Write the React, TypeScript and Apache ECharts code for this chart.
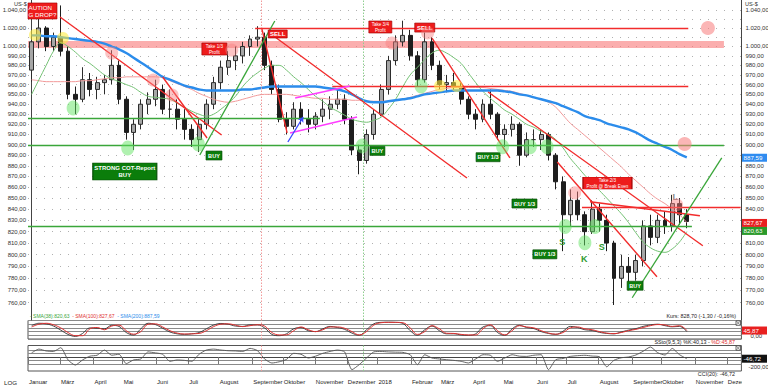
import React, { useEffect, useRef } from "react";
import * as echarts from "echarts";

// ---------- weekly price data (week 0 = 30 Jan 2017) ----------
const opens = [
  975, 1005, 1020, 1000, 1010, 995, 950, 945, 965, 955,
  962, 965, 980, 945, 912, 920, 940, 945, 955, 935,
  935, 925, 915, 905, 920, 940, 962, 978, 985, 990,
  1000, 1008, 1010, 980, 955, 925, 918, 935, 925, 920,
  928, 935, 940, 945, 925, 895, 885, 910, 930, 955,
  985, 1005, 1012, 990, 965, 1005, 980, 960, 962, 958,
  945, 930, 925, 940, 930, 910, 915, 920, 890, 905,
  905, 910, 890, 865, 835, 848, 835, 820, 840, 830,
  810, 780, 790, 785, 795, 825, 815, 830, 825, 845,
  835,
];
const highs = [
  1012, 1030, 1022, 1015, 1045, 1000, 958, 978, 972, 968,
  970, 996, 985, 948, 925, 945, 952, 965, 960, 955,
  945, 935, 920, 925, 945, 968, 985, 995, 1000, 1005,
  1012, 1022, 1015, 985, 960, 932, 942, 942, 935, 932,
  945, 948, 955, 950, 928, 900, 915, 935, 960, 990,
  1012, 1028, 1018, 995, 1015, 1010, 985, 970, 972, 962,
  948, 935, 945, 955, 932, 920, 928, 922, 912, 915,
  915, 912, 892, 870, 858, 856, 838, 848, 845, 835,
  812, 800, 798, 800, 830, 835, 835, 838, 853, 850,
  840,
];
const lows = [
  963, 998, 995, 995, 990, 945, 930, 942, 948, 945,
  950, 960, 940, 905, 895, 915, 930, 938, 930, 925,
  915, 905, 898, 893, 915, 935, 955, 970, 975, 982,
  990, 1000, 975, 950, 922, 910, 915, 920, 912, 915,
  922, 925, 935, 920, 890, 872, 882, 905, 928, 950,
  980, 1000, 985, 958, 962, 975, 955, 952, 953, 940,
  925, 915, 922, 925, 905, 898, 908, 880, 888, 898,
  895, 885, 858, 803, 825, 830, 808, 818, 820, 803,
  758, 772, 775, 778, 790, 808, 810, 818, 820, 826,
  823,
];
const closes = [
  1005, 1020, 1000, 1010, 995, 950, 945, 965, 955, 962,
  965, 980, 945, 912, 920, 940, 945, 955, 935, 935,
  925, 915, 905, 920, 940, 962, 978, 985, 990, 1000,
  1008, 1010, 980, 955, 925, 918, 935, 925, 920, 928,
  935, 940, 945, 925, 895, 885, 910, 930, 955, 985,
  1005, 1012, 990, 965, 1005, 980, 960, 962, 958, 945,
  930, 925, 940, 930, 910, 915, 920, 890, 905, 905,
  910, 890, 865, 835, 848, 835, 820, 840, 830, 810,
  780, 790, 785, 795, 825, 815, 830, 825, 845, 835,
  829,
];

// ---------- moving averages ----------
const sma38 = [
  950, 965, 980, 995, 1004, 1000, 994, 987, 982, 976,
  970, 966, 963, 960, 957, 952, 948, 947, 946, 945,
  941, 937, 933, 930, 928, 930, 935, 941, 948, 958,
  966, 972, 977, 980, 980, 975, 968, 962, 955, 948,
  943, 937, 933, 929, 925, 923, 922, 924, 927, 935,
  945, 958, 970, 978, 986, 993, 996, 993, 988, 982,
  972, 962, 953, 946, 940, 934, 930, 925, 920, 917,
  913, 910, 905, 897, 887, 879, 871, 864, 857, 850,
  843, 836, 828, 819, 811, 806, 803, 802, 805, 811,
  820,
];
const sma100 = [
  965, 964, 963, 963, 963, 963, 963, 964, 964, 965,
  966, 967, 967, 968, 968, 968, 968, 968, 967, 964,
  961, 958, 955, 951, 948, 945, 943, 942, 943, 945,
  947, 949, 950, 950, 950, 950, 949, 948, 947, 946,
  946, 945, 945, 945, 944, 944, 943, 943, 943, 943,
  944, 945, 947, 949, 951, 953, 955, 956, 957, 957,
  957, 957, 957, 956, 955, 954, 953, 951, 949, 947,
  945, 942, 937, 929, 921, 915, 909, 903, 897, 891,
  885, 879, 872, 866, 860, 854, 849, 845, 840, 835,
  828,
];
const sma200 = [
  1012, 1012, 1011, 1011, 1010, 1009, 1008, 1007, 1006, 1005,
  1003, 1000, 997, 993, 988, 983, 978, 973, 968, 965,
  962, 959, 957, 955, 954, 954, 954, 954, 954, 955,
  955, 956, 957, 958, 958, 958, 958, 958, 958, 958,
  957, 956, 955, 953, 950, 946, 943, 942, 942, 943,
  944, 945, 946, 948, 950, 951, 952, 953, 954, 954,
  954, 954, 954, 954, 954, 953, 952, 950, 949, 947,
  945, 943, 941, 938, 935, 932, 928, 926, 924, 921,
  919, 917, 915, 912, 908, 904, 901, 898, 895, 891,
  888,
];

// ---------- indicators ----------
const stochD = [
  65, 80, 85, 77, 60, 35, 18, 18, 55, 62,
  50, 70, 75, 45, 26, 40, 80, 82, 65, 45,
  32, 27, 28, 30, 45, 67, 80, 82, 75, 67,
  72, 77, 70, 35, 22, 22, 45, 65, 50, 40,
  50, 65, 65, 58, 40, 22, 40, 75, 88, 90,
  90, 88, 60, 25, 40, 72, 55, 31, 30, 25,
  22, 22, 55, 77, 45, 22, 45, 72, 65, 60,
  45, 32, 26, 35, 60, 65, 55, 50, 40, 32,
  29, 35, 45, 52, 62, 72, 78, 76, 68, 72,
  46,
];
const stochK = [
  72, 85, 82, 70, 48, 25, 14, 30, 60, 58,
  55, 74, 68, 35, 22, 55, 85, 78, 58, 38,
  28, 25, 28, 35, 55, 75, 84, 80, 70, 68,
  76, 76, 60, 25, 18, 28, 55, 62, 45, 40,
  55, 68, 62, 52, 32, 20, 50, 82, 90, 91,
  90, 84, 45, 20, 50, 70, 45, 28, 28, 22,
  20, 28, 65, 72, 35, 20, 55, 74, 62, 56,
  40, 30, 25, 42, 68, 62, 50, 46, 36, 30,
  28, 38, 48, 56, 68, 76, 80, 72, 66, 68,
  40,
];
const cci = [
  122, 231, 177, 163, 272, -82, -231, -82, 27, 54,
  204, 54, 82, -190, -82, -54, 150, 122, 82, -122,
  -82, -95, -122, 82, 204, 231, 204, 184, 177, 163,
  252, 190, -54, -171, -136, -68, 109, 82, -27, 27,
  109, 163, 204, 150, -364, -218, -27, 150, 163, 150,
  143, 136, 68, -218, 68, -27, -54, -75, -95, -122,
  -171, -54, 68, 54, -122, -27, 68, 27, 20, 54,
  68, -364, -75, -41, 20, 41, 52, 30, 10, -280,
  -92, -20, 3, 60, 168, 292, 127, 60, 250, 69,
  -47,
];

// ---------- axis ticks / labels ----------
const monthTicks = [-0.5, 3.9, 8.5, 12.5, 17.1, 21.5, 25.7, 30.3, 34.5, 38.9, 43.3, 47.5, 52.1, 56.1, 60.5, 64.7, 69.3, 73.5, 77.9, 82.5, 86.5, 91.1, 95.5];
const monthNames = ["Januar", "März", "April", "Mai", "Juni", "Juli", "August", "September", "Oktober", "November", "Dezember", "2018", "Februar", "März", "April", "Mai", "Juni", "Juli", "August", "September", "Oktober", "November", "Dezember"];
const priceGridTicks = [760, 770, 780, 790, 800, 810, 820, 830, 840, 850, 860, 870, 880, 890, 900, 910, 920, 930, 940, 950, 960, 970, 980, 990, 1000, 1010, 1020, 1030, 1040];
const leftPriceLabels = [760, 770, 780, 790, 800, 810, 820, 830, 840, 850, 860, 870, 880, 890, 900, 910, 920, 930, 940, 950, 960, 970, 980, 990, 1000, 1020, 1040];
const rightPriceLabels = [760, 770, 780, 790, 800, 810, 840, 850, 860, 870, 880, 900, 910, 920, 930, 940, 950, 960, 970, 980, 990, 1000, 1020, 1040];
const stochTicks = [0, 20, 40, 60, 80, 100];
const cciTicks = [-200, -100, 0, 100, 200];

// ---------- drawn annotations (week position, price) ----------
const redTrendLines = [
  [[3.9, 1032.1], [26.1, 909.5]],
  [[18.0, 967.8], [24.1, 906.6]],
  [[31.6, 1020.0], [35.1, 911.5]],
  [[32.5, 1015.6], [59.8, 868.5]],
  [[55.0, 1009.1], [65.7, 887.4]],
  [[62.7, 952.4], [92.2, 807.7]],
  [[72.2, 883.6], [85.9, 781.3]],
  [[76.7, 846.7], [91.8, 834.1]],
  [[75.6, 841.3], [97.4, 841.3]],
  [[30.7, 1020.0], [90.2, 1020.0]],
  [[41.3, 958.5], [90.2, 958.5]],
];
const greenLines = [
  [[-0.5, 926.2], [39.6, 926.2]],
  [[-0.5, 899.1], [95.1, 899.1]],
  [[-0.5, 824.6], [90.7, 824.6]],
  [[23.1, 890.2], [33.4, 1027.7]],
  [[82.5, 763.9], [94.8, 887.4]],
];
const magentaLines = [
  [[36.2, 946.3], [43.7, 958.5]],
  [[35.5, 911.5], [44.7, 927.2]],
];
const blueArrow = [[35.2, 902.7], [37.3, 927.2]];
const resistanceBand = [[-0.5, 998.4], [95.1, 1005.9]];
const yellowCircles = [[0.46, 1012.4], [4.3, 1009.1], [56.1, 958.5], [58.4, 958.5]];
const greenCircles = [[5.7, 936.2], [13.2, 897.0], [22.9, 900.8], [45.4, 898.9], [53.5, 958.5], [64.7, 898], [68.5, 898], [70.8, 898], [73.3, 824.6], [76.0, 810.3], [77.4, 824.6]];
const pinkCircles = [[11.0, 993.0], [16.7, 964.7], [19.3, 949.3], [27.5, 996.2], [49.5, 1003.7], [54.4, 1014.6], [74.6, 854.8], [88.6, 843.9]];
const bigPinkCircles = [[92.9, 1020], [89.7, 900.8]];
const verticalMarks = [31.6, 45.5];

const redBoxes = [
  { pos: [1.49, 1038.8], size: [29, 16], text: "AUTION\nG DROP?", fs: 6.2, left: true },
  { pos: [25.1, 997.3], size: [25, 12], text: "Take 1/3\nProfit", fs: 4.6 },
  { pos: [33.8, 1013.5], size: [19, 8], text: "SELL", fs: 6 },
  { pos: [47.9, 1021.1], size: [23, 12], text: "Take 3/4\nProfit", fs: 4.6 },
  { pos: [54.0, 1020.5], size: [20, 9], text: "SELL", fs: 6 },
  { pos: [79.1, 863.8], size: [49, 12], text: "Take 2/3\nProfit @ Break Even", fs: 4.6 },
];
const greenBoxes = [
  { pos: [12.8, 874.6], size: [64, 17], text: "STRONG COT-Report\nBUY", fs: 6 },
  { pos: [25.05, 889.7], size: [16, 9], text: "BUY", fs: 5.6 },
  { pos: [47.5, 894.1], size: [15, 9], text: "BUY", fs: 5.6 },
  { pos: [62.7, 888.1], size: [24, 9], text: "BUY 1/3", fs: 5.6 },
  { pos: [67.7, 845.1], size: [25, 9], text: "BUY 1/3", fs: 5.6 },
  { pos: [70.5, 800.3], size: [24, 9], text: "BUY 1/3", fs: 5.6 },
  { pos: [82.9, 773.8], size: [16, 9], text: "BUY", fs: 5.6 },
];
const letterMarks = [
  { pos: [72.9, 811.2], text: "S", color: "#2f9a2f" },
  { pos: [75.9, 796.4], text: "K", color: "#2f9a2f" },
  { pos: [78.3, 806.9], text: "S", color: "#2f9a2f" },
  { pos: [88.4, 851.1], text: "L", color: "#888888" },
];

const lastSma38 = 820.63;
const lastSma100 = 827.67;
const lastSma200 = 887.59;
const lastK = 40.13;
const lastD = 45.87;
const lastCci = -46.72;

const FONT = '"Liberation Sans", Arial, Helvetica, sans-serif';
const NWEEKS = 98;

const de = (v: number) => {
  const s = Math.abs(v).toFixed(2);
  const parts = s.split(".");
  const int = parts[0].replace(/\B(?=(\d{3})+(?!\d))/g, ".");
  return (v < 0 ? "-" : "") + int + "," + parts[1];
};

export default function App() {
  const ref = useRef<HTMLDivElement>(null);

  useEffect(() => {
    document.body.style.margin = "0";
    if (!ref.current) return;
    const chart = echarts.init(ref.current, null, { renderer: "svg" });

    const cats = Array.from({ length: NWEEKS }, (_, i) => String(i));
    const candleData = opens.map((o, i) => [o, closes[i], lows[i], highs[i]]);
    const xy = (arr: number[]) => arr.map((v, i) => [i, v]);
    const seg = (lines: number[][][]) =>
      lines.map((l) => [{ coord: l[0] }, { coord: l[1] }]);

    const boxItem = (b: any, fill: string, border: string) => ({
      coord: b.pos,
      symbol: "rect",
      symbolSize: b.size,
      itemStyle: { color: fill, borderColor: border, borderWidth: 0.6 },
      label: {
        show: true,
        formatter: b.text,
        color: "#ffffff",
        fontSize: b.fs,
        lineHeight: b.fs + 1.4,
        fontFamily: FONT,
        fontWeight: b.fs >= 5.5 && !b.left ? "bold" : "normal",
        position: b.left ? "insideLeft" : "inside",
        distance: 1,
        align: b.left ? "left" : "center",
      },
    });

    const gridBase = { left: 28, right: 26.6, outerBoundsMode: "none", containLabel: false };
    const vLines = [
      { xAxis: verticalMarks[0], lineStyle: { color: "#f29a9a", type: [1.5, 1.5], width: 1 } },
      { xAxis: verticalMarks[1], lineStyle: { color: "#8fcf8f", type: [1.5, 1.5], width: 1 } },
    ];

    const option: any = {
      animation: false,
      textStyle: { fontFamily: FONT },
      grid: [
        { ...gridBase, top: 0, height: 320 },
        { ...gridBase, top: 320.5, height: 18.5, show: true, borderColor: "#555", borderWidth: 1 },
        { ...gridBase, top: 345.5, height: 25.5, show: true, borderColor: "#555", borderWidth: 1 },
      ],
      xAxis: [
        { type: "category", gridIndex: 0, data: cats, boundaryGap: true, show: false },
        { type: "value", gridIndex: 0, min: -0.5, max: NWEEKS - 0.5, show: false },
        { type: "value", gridIndex: 1, min: -0.5, max: NWEEKS - 0.5, show: false },
        {
          type: "value",
          gridIndex: 2,
          min: -0.5,
          max: NWEEKS - 0.5,
          position: "bottom",
          offset: 6.5,
          axisLine: { show: true, lineStyle: { color: "#444", width: 1 } },
          axisTick: { show: true, customValues: monthTicks, length: 7, inside: false, lineStyle: { color: "#777" } },
          axisLabel: {
            show: true,
            customValues: monthTicks,
            formatter: (v: number) => {
              const i = monthTicks.findIndex((t) => Math.abs(t - v) < 1e-6);
              return i >= 0 ? monthNames[i] : "";
            },
            align: "left",
            padding: [0, 0, 0, 1],
            margin: 1.5,
            fontSize: 6,
            color: "#222",
            showMinLabel: true,
            showMaxLabel: true,
            hideOverlap: false,
          },
          splitLine: { show: false },
        },
      ],
      yAxis: [
        {
          type: "log",
          logBase: 10,
          gridIndex: 0,
          position: "left",
          min: 745.9,
          max: 1051.1,
          axisLine: { show: true, lineStyle: { color: "#444" } },
          axisTick: { show: false, customValues: priceGridTicks },
          axisLabel: { customValues: leftPriceLabels, formatter: (v: number) => de(v), fontSize: 6, color: "#333", margin: 2 },
          splitLine: { show: true, lineStyle: { color: "#b0b0b0", type: [1, 7], width: 1 } },
        },
        {
          type: "log",
          logBase: 10,
          gridIndex: 0,
          position: "right",
          min: 745.9,
          max: 1051.1,
          axisLine: { show: true, lineStyle: { color: "#444" } },
          axisTick: { show: false, customValues: priceGridTicks },
          axisLabel: { customValues: rightPriceLabels, formatter: (v: number) => de(v), fontSize: 6, color: "#333", margin: 4 },
          splitLine: { show: false },
        },
        {
          type: "value",
          gridIndex: 1,
          position: "left",
          min: 0,
          max: 100,
          axisLine: { show: false },
          axisTick: { show: false, customValues: stochTicks },
          axisLabel: { show: false },
          splitLine: { show: true, lineStyle: { color: "#8a8a8a", width: 1 } },
        },
        {
          type: "value",
          gridIndex: 1,
          position: "right",
          min: 0,
          max: 100,
          axisLine: { show: false },
          axisTick: { show: false },
          axisLabel: { show: true, customValues: [0], formatter: (v: number) => de(v), fontSize: 6, color: "#333", margin: 9, verticalAlign: "bottom" },
          splitLine: { show: false },
        },
        {
          type: "value",
          gridIndex: 2,
          position: "left",
          min: -402,
          max: 335,
          axisLine: { show: false },
          axisTick: { show: false, customValues: cciTicks },
          axisLabel: { show: false },
          splitLine: { show: true, lineStyle: { color: "#8a8a8a", width: 1 } },
        },
        {
          type: "value",
          gridIndex: 2,
          position: "right",
          min: -402,
          max: 335,
          axisLine: { show: false },
          axisTick: { show: false },
          axisLabel: { show: true, customValues: [-200], formatter: (v: number) => de(v), fontSize: 6, color: "#333", margin: 7, verticalAlign: "top" },
          splitLine: { show: false },
        },
      ],
      series: [
        {
          name: "band",
          type: "line",
          xAxisIndex: 1,
          yAxisIndex: 0,
          data: [],
          z: 1,
          markArea: {
            silent: true,
            itemStyle: { color: "rgba(248,120,120,0.6)" },
            data: [[{ coord: resistanceBand[0] }, { coord: resistanceBand[1] }]],
          },
        },
        {
          name: "Kurs",
          type: "candlestick",
          xAxisIndex: 0,
          yAxisIndex: 0,
          data: candleData,
          barWidth: 4.4,
          z: 2,
          itemStyle: { color: "#a6a6a6", color0: "#1e1e1e", borderColor: "#2c2c2c", borderColor0: "#1e1e1e", borderWidth: 1 },
        },
        {
          name: "SMA(100)",
          type: "line",
          xAxisIndex: 0,
          yAxisIndex: 0,
          data: sma100,
          showSymbol: false,
          smooth: 0.4,
          z: 3,
          lineStyle: { color: "#f29a9a", width: 1 },
        },
        {
          name: "SMA(38)",
          type: "line",
          xAxisIndex: 0,
          yAxisIndex: 0,
          data: sma38,
          showSymbol: false,
          smooth: 0.4,
          z: 3,
          lineStyle: { color: "#74c274", width: 1 },
        },
        {
          name: "SMA(200)",
          type: "line",
          xAxisIndex: 0,
          yAxisIndex: 0,
          data: sma200,
          showSymbol: false,
          smooth: 0.4,
          z: 3,
          lineStyle: { color: "#2b8ceb", width: 2.4 },
        },
        {
          name: "verticals",
          type: "line",
          xAxisIndex: 1,
          yAxisIndex: 0,
          data: [],
          z: 2,
          markLine: { silent: true, symbol: ["none", "none"], label: { show: false }, data: vLines },
        },
        {
          name: "redLines",
          type: "line",
          xAxisIndex: 1,
          yAxisIndex: 0,
          data: [],
          z: 4,
          markLine: {
            silent: true,
            symbol: ["none", "none"],
            label: { show: false },
            lineStyle: { color: "#f22c2c", width: 1.4, type: "solid" },
            data: seg(redTrendLines),
          },
        },
        {
          name: "greenLines",
          type: "line",
          xAxisIndex: 1,
          yAxisIndex: 0,
          data: [],
          z: 4,
          markLine: {
            silent: true,
            symbol: ["none", "none"],
            label: { show: false },
            lineStyle: { color: "#3aa63a", width: 1.3, type: "solid" },
            data: seg(greenLines),
          },
        },
        {
          name: "magentaLines",
          type: "line",
          xAxisIndex: 1,
          yAxisIndex: 0,
          data: [],
          z: 4,
          markLine: {
            silent: true,
            symbol: ["none", "none"],
            label: { show: false },
            lineStyle: { color: "#ff3cff", width: 1.5, type: "solid" },
            data: seg(magentaLines),
          },
        },
        {
          name: "blueArrow",
          type: "line",
          xAxisIndex: 1,
          yAxisIndex: 0,
          data: [],
          z: 4,
          markLine: {
            silent: true,
            symbol: ["none", "arrow"],
            symbolSize: 5,
            label: { show: false },
            lineStyle: { color: "#3848ff", width: 1.3, type: "solid" },
            data: [[{ coord: blueArrow[0] }, { coord: blueArrow[1] }]],
          },
        },
        {
          name: "yellow",
          type: "scatter",
          xAxisIndex: 1,
          yAxisIndex: 0,
          data: yellowCircles,
          symbolSize: 12,
          z: 5,
          silent: true,
          itemStyle: { color: "rgba(255,236,60,0.72)" },
        },
        {
          name: "green",
          type: "scatter",
          xAxisIndex: 1,
          yAxisIndex: 0,
          data: greenCircles,
          symbolSize: [13, 15],
          z: 5,
          silent: true,
          itemStyle: { color: "rgba(96,226,96,0.62)" },
        },
        {
          name: "pink",
          type: "scatter",
          xAxisIndex: 1,
          yAxisIndex: 0,
          data: pinkCircles,
          symbolSize: 13,
          z: 5,
          silent: true,
          itemStyle: { color: "rgba(248,128,128,0.58)" },
        },
        {
          name: "bigPink",
          type: "scatter",
          xAxisIndex: 1,
          yAxisIndex: 0,
          data: bigPinkCircles,
          symbolSize: 14,
          z: 5,
          silent: true,
          itemStyle: { color: "rgba(248,128,128,0.72)" },
        },
        {
          name: "boxes",
          type: "line",
          xAxisIndex: 1,
          yAxisIndex: 0,
          data: [],
          z: 6,
          markPoint: {
            silent: true,
            data: [
              ...redBoxes.map((b) => boxItem(b, "#ee1c1c", "#a00000")),
              ...greenBoxes.map((b) => boxItem(b, "#0b7d0b", "#064d06")),
              ...letterMarks.map((m) => ({
                coord: m.pos,
                symbol: "circle",
                symbolSize: 1,
                itemStyle: { color: "rgba(0,0,0,0)" },
                label: { show: true, formatter: m.text, color: m.color, fontSize: 9, fontWeight: "bold", position: "inside", fontFamily: FONT },
              })),
            ],
          },
        },
        {
          name: "%D",
          type: "line",
          xAxisIndex: 2,
          yAxisIndex: 2,
          data: xy(stochD),
          showSymbol: false,
          smooth: 0.4,
          z: 3,
          lineStyle: { color: "#e03030", width: 1 },
          markLine: { silent: true, symbol: ["none", "none"], label: { show: false }, data: vLines },
        },
        {
          name: "%K",
          type: "line",
          xAxisIndex: 2,
          yAxisIndex: 2,
          data: xy(stochK),
          showSymbol: false,
          smooth: 0.4,
          z: 2,
          lineStyle: { color: "#333333", width: 0.9 },
        },
        {
          name: "CCI",
          type: "line",
          xAxisIndex: 3,
          yAxisIndex: 4,
          data: xy(cci),
          showSymbol: false,
          smooth: 0.2,
          z: 3,
          lineStyle: { color: "#555555", width: 0.9 },
          markLine: { silent: true, symbol: ["none", "none"], label: { show: false }, data: vLines },
        },
      ],
    };

    chart.setOption(option);

    const yMain = (v: number) => chart.convertToPixel({ yAxisIndex: 0 } as any, v) as unknown as number;
    const yStoch = (v: number) => chart.convertToPixel({ yAxisIndex: 2 } as any, v) as unknown as number;
    const yCci = (v: number) => chart.convertToPixel({ yAxisIndex: 4 } as any, v) as unknown as number;

    const font = (s: number) => `${s}px ${FONT}`;
    const text = (x: number, y: number, t: string, size: number, fill: string, align = "left") => ({
      type: "text",
      x,
      y,
      z: 100,
      silent: true,
      style: {
        text: t,
        fill,
        font: font(size),
        align,
        textAlign: align,
        verticalAlign: "middle",
        textVerticalAlign: "middle",
      },
    });
    const richText = (x: number, y: number, t: string, size: number, rich: any, align = "left") => ({
      type: "text",
      x,
      y,
      z: 100,
      silent: true,
      style: {
        text: t,
        font: font(size),
        align,
        textAlign: align,
        verticalAlign: "middle",
        textVerticalAlign: "middle",
        rich,
      },
    });
    const rs = (c: string, s: number) => ({ fill: c, color: c, fontSize: s, fontFamily: FONT });
    const valueBox = (y: number, t: string, fill: string) => [
      { type: "rect", z: 100, silent: true, shape: { x: 742, y: y - 4, width: 25, height: 8 }, style: { fill } },
      text(743.5, y, t, 6.2, "#ffffff"),
    ];
    const xIcon = (y: number) => [
      { type: "rect", z: 100, silent: true, shape: { x: 736, y, width: 4.5, height: 4.5 }, style: { fill: "#fff", stroke: "#444", lineWidth: 0.8 } },
      { type: "line", z: 101, silent: true, shape: { x1: 736.5, y1: y + 0.5, x2: 740, y2: y + 4 }, style: { stroke: "#444", lineWidth: 0.6 } },
      { type: "line", z: 101, silent: true, shape: { x1: 740, y1: y + 0.5, x2: 736.5, y2: y + 4 }, style: { stroke: "#444", lineWidth: 0.6 } },
    ];

    const elements: any[] = [
      text(14, 3.5, "US-$", 5.6, "#333"),
      text(745, 3.5, "US-$", 5.6, "#333"),
      richText(
        30,
        315.5,
        "{g|- SMA(38):" + de(lastSma38) + "}{s|  }{r|- SMA(100):" + de(lastSma100) + "}{s|  }{b|- SMA(200):" + de(lastSma200) + "}",
        5,
        { g: rs("#3aa63a", 5), r: rs("#e03030", 5), b: rs("#2b8ceb", 5), s: rs("#fff", 5) }
      ),
      text(736, 315.5, "Kurs: 828,70 (-1,30 / -0,16%)", 5.4, "#222", "right"),
      richText(
        735,
        342.3,
        "{k|SSto(9,5,3) %K:" + de(lastK) + " - }{d|%D:" + de(lastD) + "}",
        5.4,
        { k: rs("#222", 5.4), d: rs("#e03030", 5.4) },
        "right"
      ),
      text(735, 374, "CCI(20): " + de(lastCci), 5.4, "#222", "right"),
      text(4, 382, "LOG", 6.2, "#222"),
      ...valueBox(yMain(lastSma200), de(lastSma200), "#2f8cf0"),
      ...valueBox(yMain(lastSma100), de(lastSma100), "#e82020"),
      ...valueBox(yMain(lastSma38), de(lastSma38), "#2a9a2a"),
      ...valueBox(yStoch(lastD), de(lastD), "#e82020"),
      ...valueBox(yCci(lastCci), de(lastCci), "#111111"),
      ...xIcon(320.8),
      ...xIcon(345.8),
      { type: "rect", z: 120, silent: true, shape: { x: 742, y: 378.5, width: 26, height: 7 }, style: { fill: "#ffffff" } },
    ];

    chart.setOption({ graphic: { elements } });

    return () => chart.dispose();
  }, []);

  return <div ref={ref} style={{ width: 768, height: 385 }} />;
}
